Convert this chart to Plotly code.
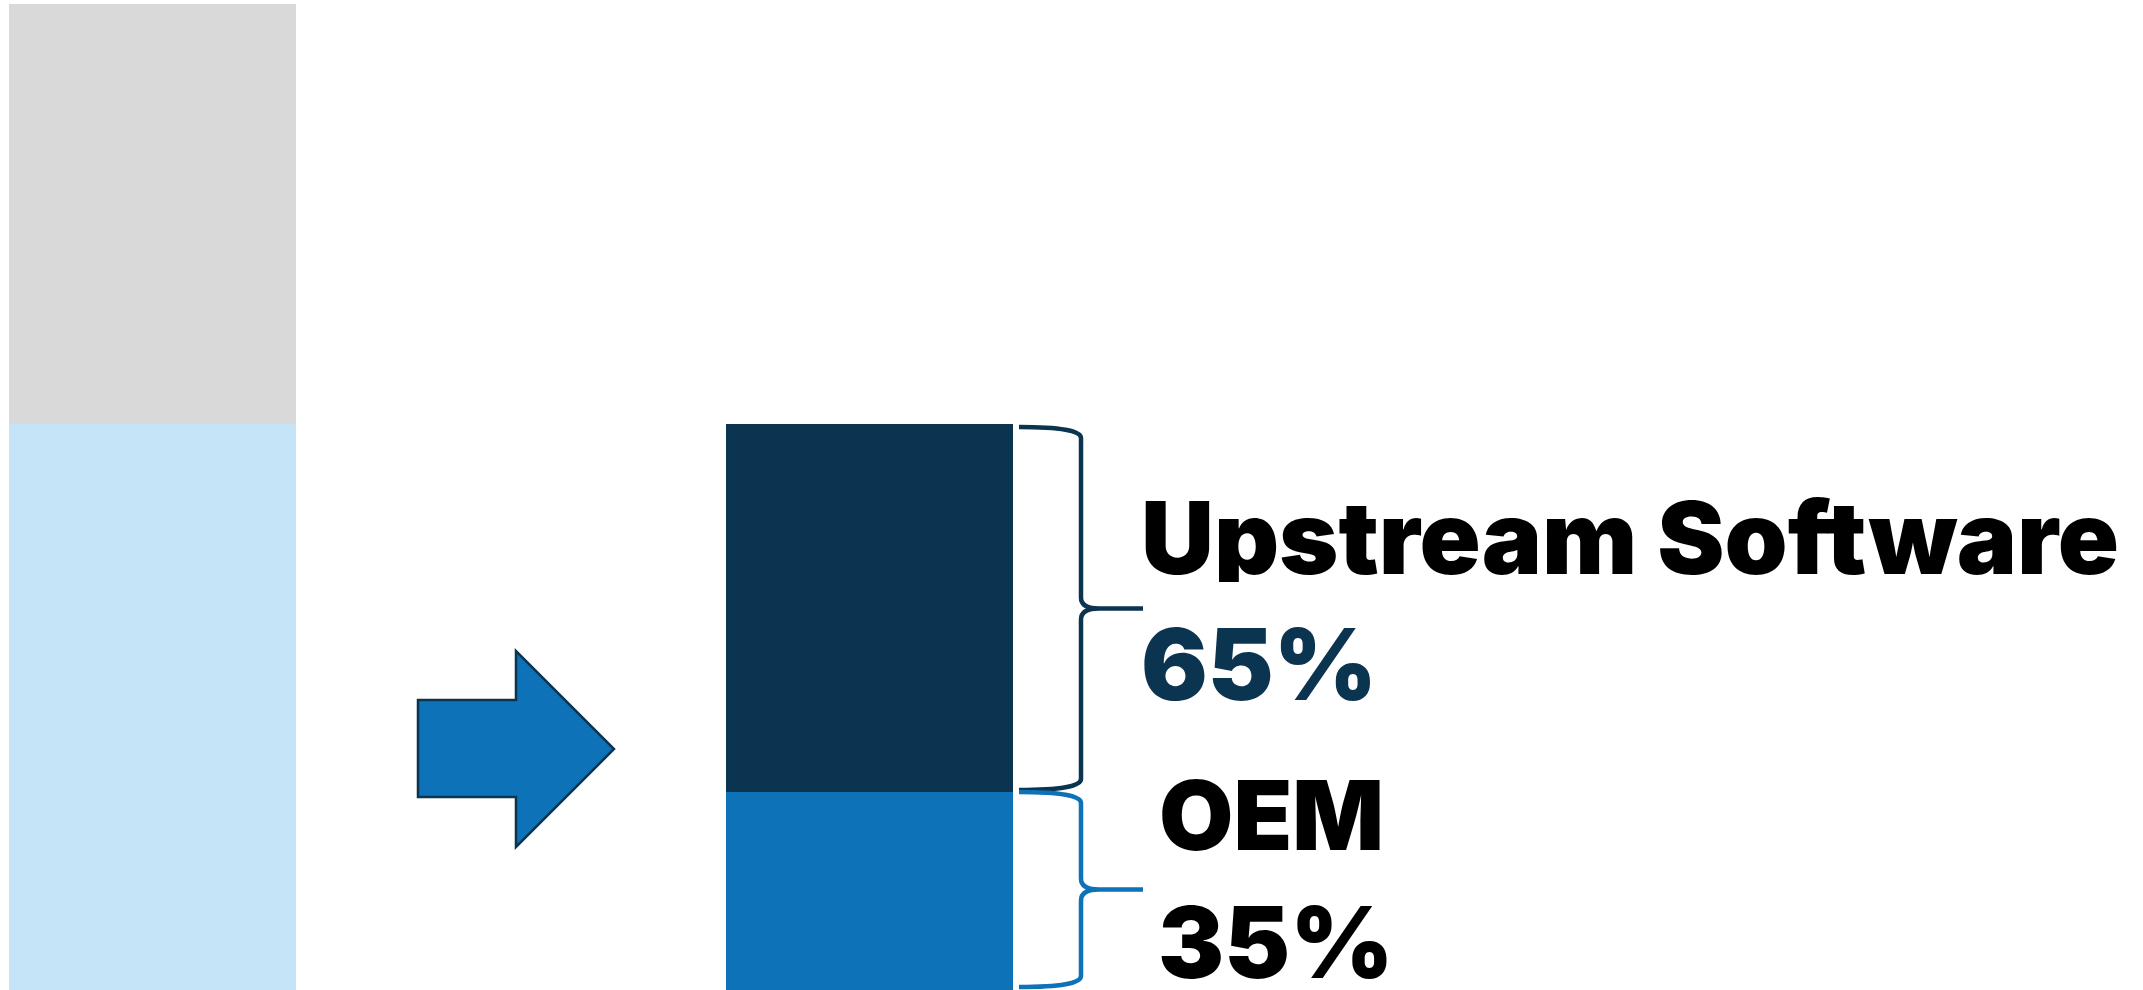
import plotly.graph_objects as go

W, H = 2143, 990

# ---------------- data ----------------
bar_positions = [0, 1]                      # left: total, right: breakdown
software_share = 57.4                       # light-blue part of the left bar
other_share = 42.6                          # grey part of the left bar
segment_names = ["OEM", "Upstream Software"]
segment_pct = [35, 65]                      # share of the software part
segment_labels = ["35%", "65%"]

seg_vals = [software_share * p / 100 for p in segment_pct]

# ---------------- styles ----------------
C_GREY = "#D9D9D9"
C_LIGHT = "#C5E4F8"
C_BLUE = "#0E72B8"
C_NAVY = "#0B3450"

YMAX = 100 * H / 986
BAR_W = 287 / 717

fig = go.Figure()
fig.add_trace(go.Bar(
    x=bar_positions, y=[software_share, seg_vals[0]],
    marker=dict(color=[C_LIGHT, C_BLUE], line=dict(width=0)),
    width=BAR_W, hoverinfo="skip", showlegend=False))
fig.add_trace(go.Bar(
    x=bar_positions, y=[other_share, seg_vals[1]],
    marker=dict(color=[C_GREY, C_NAVY], line=dict(width=0)),
    width=BAR_W, hoverinfo="skip", showlegend=False))


def P(xp, yp):
    return f"{xp / W:.5f},{1 - yp / H:.5f}"


def ypx(v):
    return H - v / YMAX * H


def brace(yt, yb, color, x0=1019, xv=1081, xt=1143, r=11):
    ym = (yt + yb) / 2
    d = (f"M {P(x0, yt)} Q {P(xv, yt)} {P(xv, yt + r)} "
         f"L {P(xv, ym - r)} Q {P(xv, ym)} {P(xv + 18, ym)} L {P(xt, ym)} "
         f"M {P(xt, ym)} L {P(xv + 18, ym)} Q {P(xv, ym)} {P(xv, ym + r)} "
         f"L {P(xv, yb - r)} Q {P(xv, yb)} {P(x0, yb)}")
    fig.add_shape(type="path", path=d, xref="paper", yref="paper",
                  line=dict(color=color, width=4.5), fillcolor="rgba(0,0,0,0)")


# braces tied to the segment bounds
brace(ypx(software_share) + 3, ypx(seg_vals[0]) - 2, C_NAVY)
brace(ypx(seg_vals[0]) + 0, ypx(0) - 3, C_BLUE)

# arrow
arrow_pts = [(418, 700), (516, 700), (516, 651), (614, 749),
             (516, 847), (516, 797), (418, 797)]
path = "M " + " L ".join(P(x, y) for x, y in arrow_pts) + " Z"
fig.add_shape(type="path", path=path, xref="paper", yref="paper",
              fillcolor=C_BLUE, line=dict(color=C_NAVY, width=2.5))

FONT = "Inter"


def label(text, xp, yc, color, size=99):
    fig.add_annotation(text=text, x=xp / W, y=1 - yc / H, xref="paper", yref="paper",
                       xanchor="left", yanchor="middle", showarrow=False,
                       height=int(size * 0.9), valign="middle",
                       font=dict(family=FONT, size=size, color=color, weight=900))


label(segment_names[1], 1139, 537, "#000000", size=101)
label(segment_labels[1], 1139, 663, C_NAVY)
label(segment_names[0], 1157, 815, "#000000", size=96)
label(segment_labels[0], 1156, 941, "#000000")

fig.update_layout(
    width=W, height=H, margin=dict(l=0, r=0, t=0, b=0, pad=0),
    barmode="stack", bargap=0,
    paper_bgcolor="white", plot_bgcolor="white",
    xaxis=dict(range=[-152.5 / 717, (W - 152.5) / 717], visible=False, fixedrange=True),
    yaxis=dict(range=[0, YMAX], visible=False, fixedrange=True),
)

fig.write_html("out.html")
